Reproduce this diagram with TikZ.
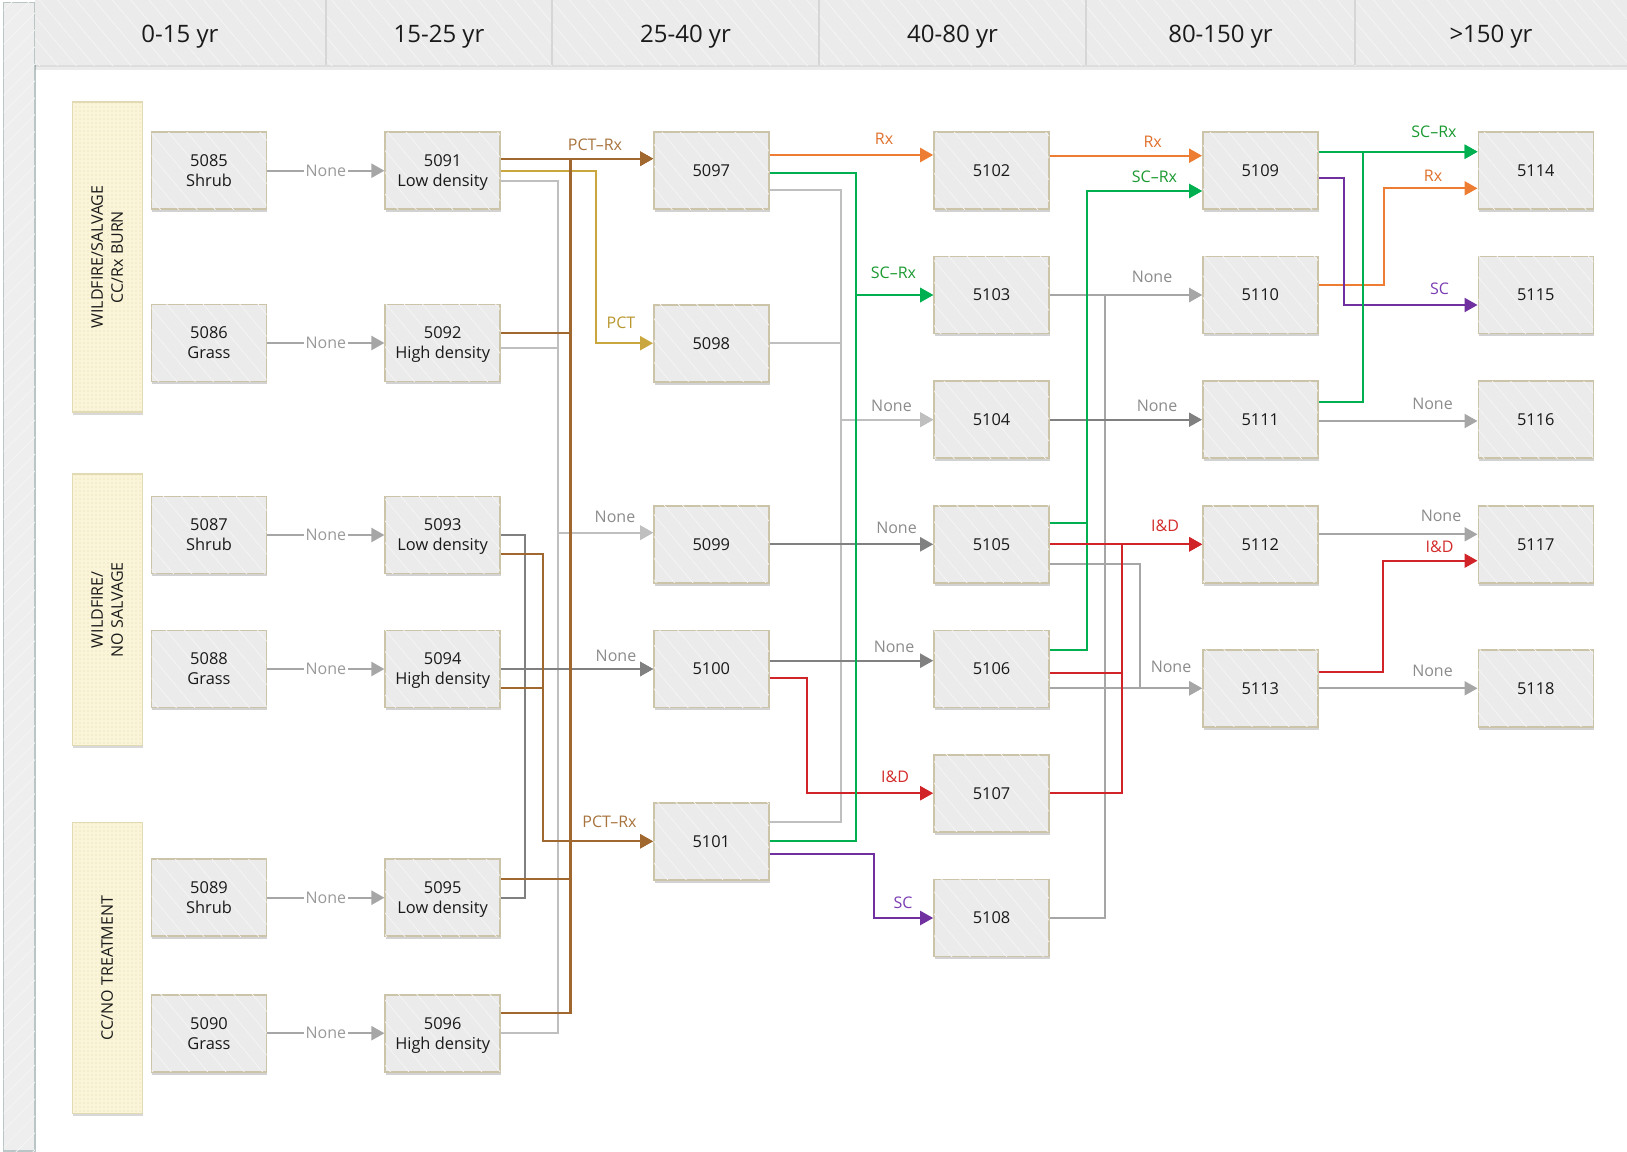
\documentclass[tikz,border=0pt]{standalone}
\usepackage{fontspec}
\setmainfont{Open Sans}
\usetikzlibrary{arrows.meta,patterns,patterns.meta,shadows}

\definecolor{boxfill}{HTML}{EBEBEB}
\definecolor{boxline}{HTML}{CCC4A8}
\definecolor{hdrfill}{HTML}{EBEBEB}
\definecolor{stripfill}{HTML}{EEEEEE}
\definecolor{stripline}{HTML}{BAC6C6}
\definecolor{sepline}{HTML}{D6D6D6}
\definecolor{grpfill}{HTML}{FAF5D9}
\definecolor{grpdot}{HTML}{E6DBAA}
\definecolor{grpline}{HTML}{E2DAB4}
\definecolor{txt}{HTML}{1A1A1A}
\definecolor{hatch}{HTML}{F6F6F6}
\definecolor{gA}{HTML}{A6A6A6}
\definecolor{gL}{HTML}{BFBFBF}
\definecolor{gD}{HTML}{808080}
\definecolor{brn}{HTML}{A0672F}
\definecolor{gld}{HTML}{CAA73E}
\definecolor{org}{HTML}{EC7D32}
\definecolor{grn}{HTML}{00B050}
\definecolor{pur}{HTML}{7030A0}
\definecolor{rdd}{HTML}{D02428}
\definecolor{lgray}{HTML}{8C8C8C}
\definecolor{lgrayl}{HTML}{9A9A9A}
\definecolor{lbrn}{HTML}{A8743E}
\definecolor{lgld}{HTML}{B9972F}
\definecolor{lorg}{HTML}{E0712C}
\definecolor{lgrn}{HTML}{1C9A32}
\definecolor{lpur}{HTML}{7B3DB3}
\definecolor{lred}{HTML}{D42B2B}

\begin{document}
\begin{tikzpicture}[x=0.5pt,y=-0.5pt,
  stbox/.style={draw=boxline, line width=0.8pt, fill=boxfill,
    minimum width=57.5pt, minimum height=38.5pt, inner sep=1pt,
    align=center, text=txt, font=\fontsize{8.2}{10}\selectfont,
    drop shadow={shadow xshift=0.4pt, shadow yshift=-1.4pt, opacity=0.35},
    postaction={pattern={Lines[angle=-50,distance=7pt,line width=0.35pt]}, pattern color=hatch}},
  grpbox/.style={draw=grpline, line width=0.6pt, fill=grpfill,
    minimum width=35pt, inner sep=0pt,
    drop shadow={shadow xshift=0.4pt, shadow yshift=-1.4pt, opacity=0.3},
    postaction={pattern={Dots[distance=2pt,radius=0.35pt]}, pattern color=grpdot}},
  grptxt/.style={rotate=90, align=center, text=txt, font=\fontsize{8}{10}\selectfont, inner sep=0pt},
  hdr/.style={text=txt, font=\fontsize{12}{14}\selectfont, inner sep=0pt, anchor=base},
  elbl/.style={font=\fontsize{8}{9}\selectfont, inner sep=0pt},
  inl/.style={font=\fontsize{8}{9}\selectfont, text=lgrayl, fill=white, inner sep=0.8pt},
  cn/.style={line width=1.1pt, -{Triangle[length=6.5pt,width=7pt]}},
]
\useasboundingbox (0,0) rectangle (1627,1151);
\fill[white] (0,0) rectangle (1627,1151);

% left strip
\path[fill=stripfill, draw=stripline, line width=0.6pt,
  postaction={pattern={Lines[angle=45,distance=6pt,line width=0.35pt]}, pattern color=hatch}]
  (3.6,2.7) rectangle (35,1151);
% header
\fill[black, opacity=0.08] (35,65) rectangle (1627,70);
\fill[black, opacity=0.06] (35,65) rectangle (1627,67);
\path[fill=hdrfill, postaction={pattern={Lines[angle=-50,distance=7pt,line width=0.35pt]}, pattern color=hatch}]
  (35,0) rectangle (1627,65);
\foreach \sx in {326,552,819,1086,1355} \draw[sepline, line width=0.6pt] (\sx,0) -- (\sx,65);

\node[hdr] (h1) at (180,42) {0-15 yr};
\node[hdr] (h2) at (439,42) {15-25 yr};
\node[hdr] (h3) at (685.5,42) {25-40 yr};
\node[hdr] (h4) at (952.5,42) {40-80 yr};
\node[hdr] (h5) at (1220.5,42) {80-150 yr};
\node[hdr] (h6) at (1491,42) {>150 yr};

% group labels
\node[grpbox, minimum height=155pt] (g1) at (107.2,257) {};
\node[grptxt] (g1t) at (g1.center) {WILDFIRE/SALVAGE\\CC/Rx BURN};
\node[grpbox, minimum height=135.8pt] (g2) at (107.2,609.8) {};
\node[grptxt] (g2t) at (g2.center) {WILDFIRE/\\NO SALVAGE};
\node[grpbox, minimum height=145.2pt] (g3) at (107.2,967.9) {};
\node[grptxt] (g3t) at (g3.center) {CC/NO TREATMENT};

% column 0
\node[stbox] (n5085) at (209,170.7) {5085\\Shrub};
\node[stbox] (n5086) at (209,343) {5086\\Grass};
\node[stbox] (n5087) at (209,535) {5087\\Shrub};
\node[stbox] (n5088) at (209,669) {5088\\Grass};
\node[stbox] (n5089) at (209,897.7) {5089\\Shrub};
\node[stbox] (n5090) at (209,1033.2) {5090\\Grass};
% column 1
\node[stbox, text depth=0pt] (n5091) at (442.7,170.7) {5091\\Low density};
\node[stbox, text depth=0pt] (n5092) at (442.7,343) {5092\\High density};
\node[stbox, text depth=0pt] (n5093) at (442.7,535) {5093\\Low density};
\node[stbox, text depth=0pt] (n5094) at (442.7,669) {5094\\High density};
\node[stbox, text depth=0pt] (n5095) at (442.7,897.7) {5095\\Low density};
\node[stbox, text depth=0pt] (n5096) at (442.7,1033.2) {5096\\High density};
% column 2
\node[stbox] (n5097) at (711.3,170.7) {5097};
\node[stbox] (n5098) at (711.3,343.2) {5098};
\node[stbox] (n5099) at (711.3,544.3) {5099};
\node[stbox] (n5100) at (711.3,669) {5100};
\node[stbox] (n5101) at (711.3,841.3) {5101};
% column 3
\node[stbox] (n5102) at (991.5,170.7) {5102};
\node[stbox] (n5103) at (991.5,295) {5103};
\node[stbox] (n5104) at (991.5,419.7) {5104};
\node[stbox] (n5105) at (991.5,544.3) {5105};
\node[stbox] (n5106) at (991.5,669) {5106};
\node[stbox] (n5107) at (991.5,793.2) {5107};
\node[stbox] (n5108) at (991.5,918) {5108};
% column 4
\node[stbox] (n5109) at (1260.3,170.7) {5109};
\node[stbox] (n5110) at (1260.3,295) {5110};
\node[stbox] (n5111) at (1260.3,419.7) {5111};
\node[stbox] (n5112) at (1260.3,544.3) {5112};
\node[stbox] (n5113) at (1260.3,688.3) {5113};
% column 5
\node[stbox] (n5114) at (1535.8,170.7) {5114};
\node[stbox] (n5115) at (1535.8,295) {5115};
\node[stbox] (n5116) at (1535.8,419.7) {5116};
\node[stbox] (n5117) at (1535.8,544.3) {5117};
\node[stbox] (n5118) at (1535.8,688.3) {5118};

% ---- column 0 -> column 1
\draw[cn, gA] (n5085) -- node[inl] (i1) {None} (n5091);
\draw[cn, gA] (n5086) -- node[inl] (i2) {None} (n5092);
\draw[cn, gA] (n5087) -- node[inl] (i3) {None} (n5093);
\draw[cn, gA] (n5088) -- node[inl] (i4) {None} (n5094);
\draw[cn, gA] (n5089) -- node[inl] (i5) {None} (n5095);
\draw[cn, gA] (n5090) -- node[inl] (i6) {None} (n5096);

% ---- column 1 outputs
\draw[cn, gL] (n5091.east |- 0,181) -| (558,532.7) -- (n5099.west |- 0,532.7);
\draw[cn, gL] (n5092.east |- 0,347.7) -| (558,532.7) -- (n5099.west |- 0,532.7);
\draw[cn, gL] (n5096.east) -| (558,532.7) -- (n5099.west |- 0,532.7);
\draw[cn, gD] (n5093.east) -| (524.6,669) -- (n5100.west);
\draw[cn, gD] (n5095.east) -| (524.6,669) -- (n5100.west);
\draw[cn, gD] (n5094.east) -- (n5100.west);
\draw[cn, brn] (n5093.east |- 0,554) -| (543.3,841.3) -- (n5101.west);
\draw[cn, brn] (n5094.east |- 0,687.7) -| (543.3,841.3) -- (n5101.west);
\draw[cn, gld] (n5091.east |- 0,170.7) -| (596,343.2) -- (n5098.west);
\draw[cn, brn] (n5092.east |- 0,333) -| (570.5,158.7) -- (n5097.west |- 0,158.7);
\draw[cn, brn] (n5095.east |- 0,879) -| (570.5,158.7) -- (n5097.west |- 0,158.7);
\draw[cn, brn] (n5096.east |- 0,1013) -| (570.5,158.7) -- (n5097.west |- 0,158.7);
\draw[cn, brn] (n5091.east |- 0,158.7) -- (n5097.west |- 0,158.7);

% ---- column 2 outputs
\draw[cn, gL] (n5097.east |- 0,190) -| (840.6,419.7) -- (n5104.west);
\draw[cn, gL] (n5098.east) -| (840.6,419.7) -- (n5104.west);
\draw[cn, gL] (n5101.east |- 0,821.7) -| (840.6,419.7) -- (n5104.west);
\draw[cn, gD] (n5099.east) -- (n5105.west);
\draw[cn, gD] (n5100.east |- 0,660.7) -- (n5106.west |- 0,660.7);
\draw[cn, rdd] (n5100.east |- 0,677.7) -| (807,793.2) -- (n5107.west);
\draw[cn, pur] (n5101.east |- 0,854.3) -| (873.6,918) -- (n5108.west);
\draw[cn, grn] (n5097.east |- 0,173.3) -| (856.3,295) -- (n5103.west);
\draw[cn, grn] (n5101.east |- 0,841.3) -| (856.3,295) -- (n5103.west);
\draw[cn, org] (n5097.east |- 0,155) -- (n5102.west |- 0,155);

% ---- column 3 outputs
\draw[cn, gA] (n5103.east) -- (n5110.west);
\draw[cn, gA] (n5108.east) -| (1104.8,295) -- (n5110.west);
\draw[cn, gD] (n5104.east) -- (n5111.west);
\draw[cn, gA] (n5105.east |- 0,564.3) -| (1140,688.3) -- (n5113.west);
\draw[cn, gA] (n5106.east |- 0,688.3) -- (n5113.west);
\draw[cn, grn] (n5105.east |- 0,523.3) -| (1087.2,191) -- (n5109.west |- 0,191);
\draw[cn, grn] (n5106.east |- 0,650) -| (1087.2,191) -- (n5109.west |- 0,191);
\draw[cn, rdd] (n5106.east |- 0,673.3) -| (1122,544.3) -- (n5112.west);
\draw[cn, rdd] (n5107.east) -| (1122,544.3) -- (n5112.west);
\draw[cn, rdd] (n5105.east) -- (n5112.west);
\draw[cn, org] (n5102.east |- 0,155.7) -- (n5109.west |- 0,155.7);

% ---- column 4 outputs
\draw[cn, gA] (n5111.east |- 0,421) -- (n5116.west |- 0,421);
\draw[cn, gA] (n5112.east |- 0,534.3) -- (n5117.west |- 0,534.3);
\draw[cn, gA] (n5113.east) -- (n5118.west);
\draw[cn, rdd] (n5113.east |- 0,671.7) -| (1382.8,560.7) -- (n5117.west |- 0,560.7);
\draw[cn, org] (n5110.east |- 0,285.3) -| (1384,188.3) -- (n5114.west |- 0,188.3);
\draw[cn, pur] (n5109.east |- 0,178) -| (1344,305) -- (n5115.west |- 0,305);
\draw[cn, grn] (n5111.east |- 0,401.7) -| (1363.2,151.7) -- (n5114.west |- 0,151.7);
\draw[cn, grn] (n5109.east |- 0,151.7) -- (n5114.west |- 0,151.7);

% ---- edge labels
\node[elbl, text=lbrn] (t1) at (595,145) {PCT\textendash Rx};
\node[elbl, text=lgld] (t2) at (621,323) {PCT};
\node[elbl, text=lgray] (t3) at (615,517) {None};
\node[elbl, text=lgray] (t4) at (616,656) {None};
\node[elbl, text=lbrn] (t5) at (609.5,822) {PCT\textendash Rx};
\node[elbl, text=lorg] (t6) at (884,139) {Rx};
\node[elbl, text=lgrn] (t7) at (893.5,273) {SC\textendash Rx};
\node[elbl, text=lgray] (t8) at (891.5,405.7) {None};
\node[elbl, text=lgray] (t9) at (896.5,528) {None};
\node[elbl, text=lgray] (t10) at (894,646.5) {None};
\node[elbl, text=lred] (t11) at (895,777) {I\&D};
\node[elbl, text=lpur] (t12) at (903,902.7) {SC};
\node[elbl, text=lorg] (t13) at (1152.7,142) {Rx};
\node[elbl, text=lgrn] (t14) at (1154.5,176.4) {SC\textendash Rx};
\node[elbl, text=lgray] (t15) at (1152,277) {None};
\node[elbl, text=lgray] (t16) at (1157,405.7) {None};
\node[elbl, text=lred] (t17) at (1165,526) {I\&D};
\node[elbl, text=lgray] (t18) at (1171,667.2) {None};
\node[elbl, text=lgrn] (t19) at (1434,131.8) {SC\textendash Rx};
\node[elbl, text=lorg] (t20) at (1433,175.4) {Rx};
\node[elbl, text=lpur] (t21) at (1439.5,288.5) {SC};
\node[elbl, text=lgray] (t22) at (1432.5,403.6) {None};
\node[elbl, text=lgray] (t23) at (1441,515.7) {None};
\node[elbl, text=lred] (t24) at (1439.5,546.8) {I\&D};
\node[elbl, text=lgray] (t25) at (1432.5,671.3) {None};
\end{tikzpicture}
\end{document}
